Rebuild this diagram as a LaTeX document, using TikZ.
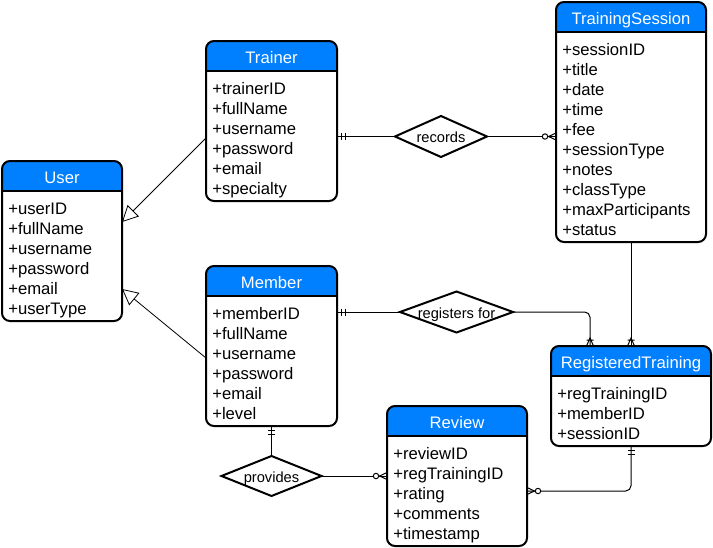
\documentclass[tikz,border=0pt]{standalone}
\usepackage{fontspec}
\setmainfont{Liberation Sans}
\usetikzlibrary{calc,arrows.meta}
\definecolor{hdrblue}{RGB}{0,127,255}
\tikzset{
  entbox/.style={draw, line width=1.5pt, rounded corners=6pt, inner sep=0pt, outer sep=0pt},
  rowtxt/.style={font=\fontsize{12.5}{14}\selectfont, inner sep=0pt, anchor=base west},
  titletxt/.style={font=\fontsize{12.5}{14}\selectfont, text=white, inner sep=0pt, anchor=base},
  relbox/.style={inner sep=0pt, outer sep=0pt, text height=9.3pt, text depth=0pt, font=\fontsize{11}{13}\selectfont},
  diamondline/.style={line width=1.5pt, line join=miter},
  erline/.style={line width=0.75pt},
  isa/.style={line width=0.6pt, -{Triangle[open, length=12pt, width=12pt]}},
  mandone/.pic={\draw[erline] (4.5,-3.5) -- (4.5,3.5) (8,-3.5) -- (8,3.5);},
  onemany/.pic={\draw[erline] (0,-3.5) -- (8,0) -- (0,3.5) (6,-3.5) -- (6,3.5);},
  zeromany/.pic={\draw[erline] (0,-3.5) -- (7.5,0) -- (0,3.5); \draw[erline, fill=white] (11,0) circle[radius=2.7];}
}
\newcommand\entity[7]{%
  \pgfmathsetmacro\entH{40+20*#5}%
  \fill[hdrblue, rounded corners=6pt] (#2,#3) rectangle ++(#4,40);
  \fill[white] ($(#2,#3)+(0,30)$) rectangle ++(#4,12);
  \node[entbox, anchor=north west, minimum width=#4*0.75pt, minimum height=\entH*0.75pt] (#1) at (#2,#3) {};
  \draw[line width=1.5pt] ($(#1.north west)+(0,30)$) -- ($(#1.north east)+(0,30)$);
  \node[titletxt] (#1-title) at ($(#1.north)+(0,22.5)$) {#6};
  \foreach \r [count=\i] in {#7}
    \node[rowtxt] (#1-\i) at ($(#1.north west)+(6,{53.2+20*(\i-1)})$) {\r};
}
\begin{document}
\begin{tikzpicture}[x=0.75pt, y=-0.75pt]
\useasboundingbox (0,0) rectangle (713,547);
\fill[white] (0,0) rectangle (713,547);

\entity{user}{2}{161}{120}{6}{User}{+userID,+fullName,+username,+password,+email,+userType}
\entity{trainer}{206}{41}{131}{6}{Trainer}{+trainerID,+fullName,+username,+password,+email,+specialty}
\entity{ts}{556}{2}{150}{10}{TrainingSession}{+sessionID,+title,+date,+time,+fee,+sessionType,+notes,+classType,+maxParticipants,+status}
\entity{member}{206}{266}{131}{6}{Member}{+memberID,+fullName,+username,+password,+email,+level}
\entity{rt}{551}{346}{160}{3}{RegisteredTraining}{+regTrainingID,+memberID,+sessionID}
\entity{review}{387}{406}{140}{5}{Review}{+reviewID,+regTrainingID,+rating,+comments,+timestamp}

% relationship diamonds
\node[relbox, minimum width=69pt, minimum height=30.75pt] (rec) at (441,136.5) {records};
\draw[diamondline] (rec.west) -- (rec.north) -- (rec.east) -- (rec.south) -- cycle;
\node[relbox, minimum width=84.75pt, minimum height=30.75pt] (reg) at (456.5,312) {registers for};
\draw[diamondline] (reg.west) -- (reg.north) -- (reg.east) -- (reg.south) -- cycle;
\node[relbox, minimum width=75pt, minimum height=30pt] (prov) at ($(member.south)+(0,50)$) {provides};
\draw[diamondline] (prov.west) -- (prov.north) -- (prov.east) -- (prov.south) -- cycle;

% inheritance
\coordinate (trA) at ($(trainer.north west)+(0,97)$);
\coordinate (usA) at ($(user.north east)+(0,61)$);
\draw[isa] (trA) -- (usA);
\coordinate (meA) at ($(member.north west)+(0,92)$);
\coordinate (usB) at ($(user.north east)+(0,128)$);
\draw[isa] (meA) -- (usB);

% records
\draw[erline] (rec.west -| trainer.east) -- (rec.west);
\draw[erline] (rec.east) -- (rec.east -| ts.west);
\pic at (rec.west -| trainer.east) {mandone};
\pic[rotate=180] at (rec.east -| ts.west) {zeromany};

% registers for
\coordinate (rtA) at ($(rt.north west)+(39,0)$);
\draw[erline] (reg.west -| member.east) -- (reg.west);
\draw[erline, rounded corners=4pt] (reg.east) -| (rtA);
\pic at (reg.west -| member.east) {mandone};
\pic[rotate=90] at (rtA) {onemany};

% session -> registered training
\draw[erline] (ts.south) -- (rt.north);
\pic[rotate=90] at (rt.north) {onemany};

% provides
\draw[erline] (member.south) -- (prov.north);
\pic[rotate=-90] at (member.south) {mandone};
\draw[erline] (prov.east) -- (prov.east -| review.west);
\pic[rotate=180] at (prov.east -| review.west) {zeromany};

% registered training -> review
\coordinate (revR) at ($(review.north east)+(0,85)$);
\draw[erline, rounded corners=4pt] (rt.south) |- (revR);
\pic[rotate=-90] at (rt.south) {mandone};
\pic at (revR) {zeromany};
\end{tikzpicture}
\end{document}
